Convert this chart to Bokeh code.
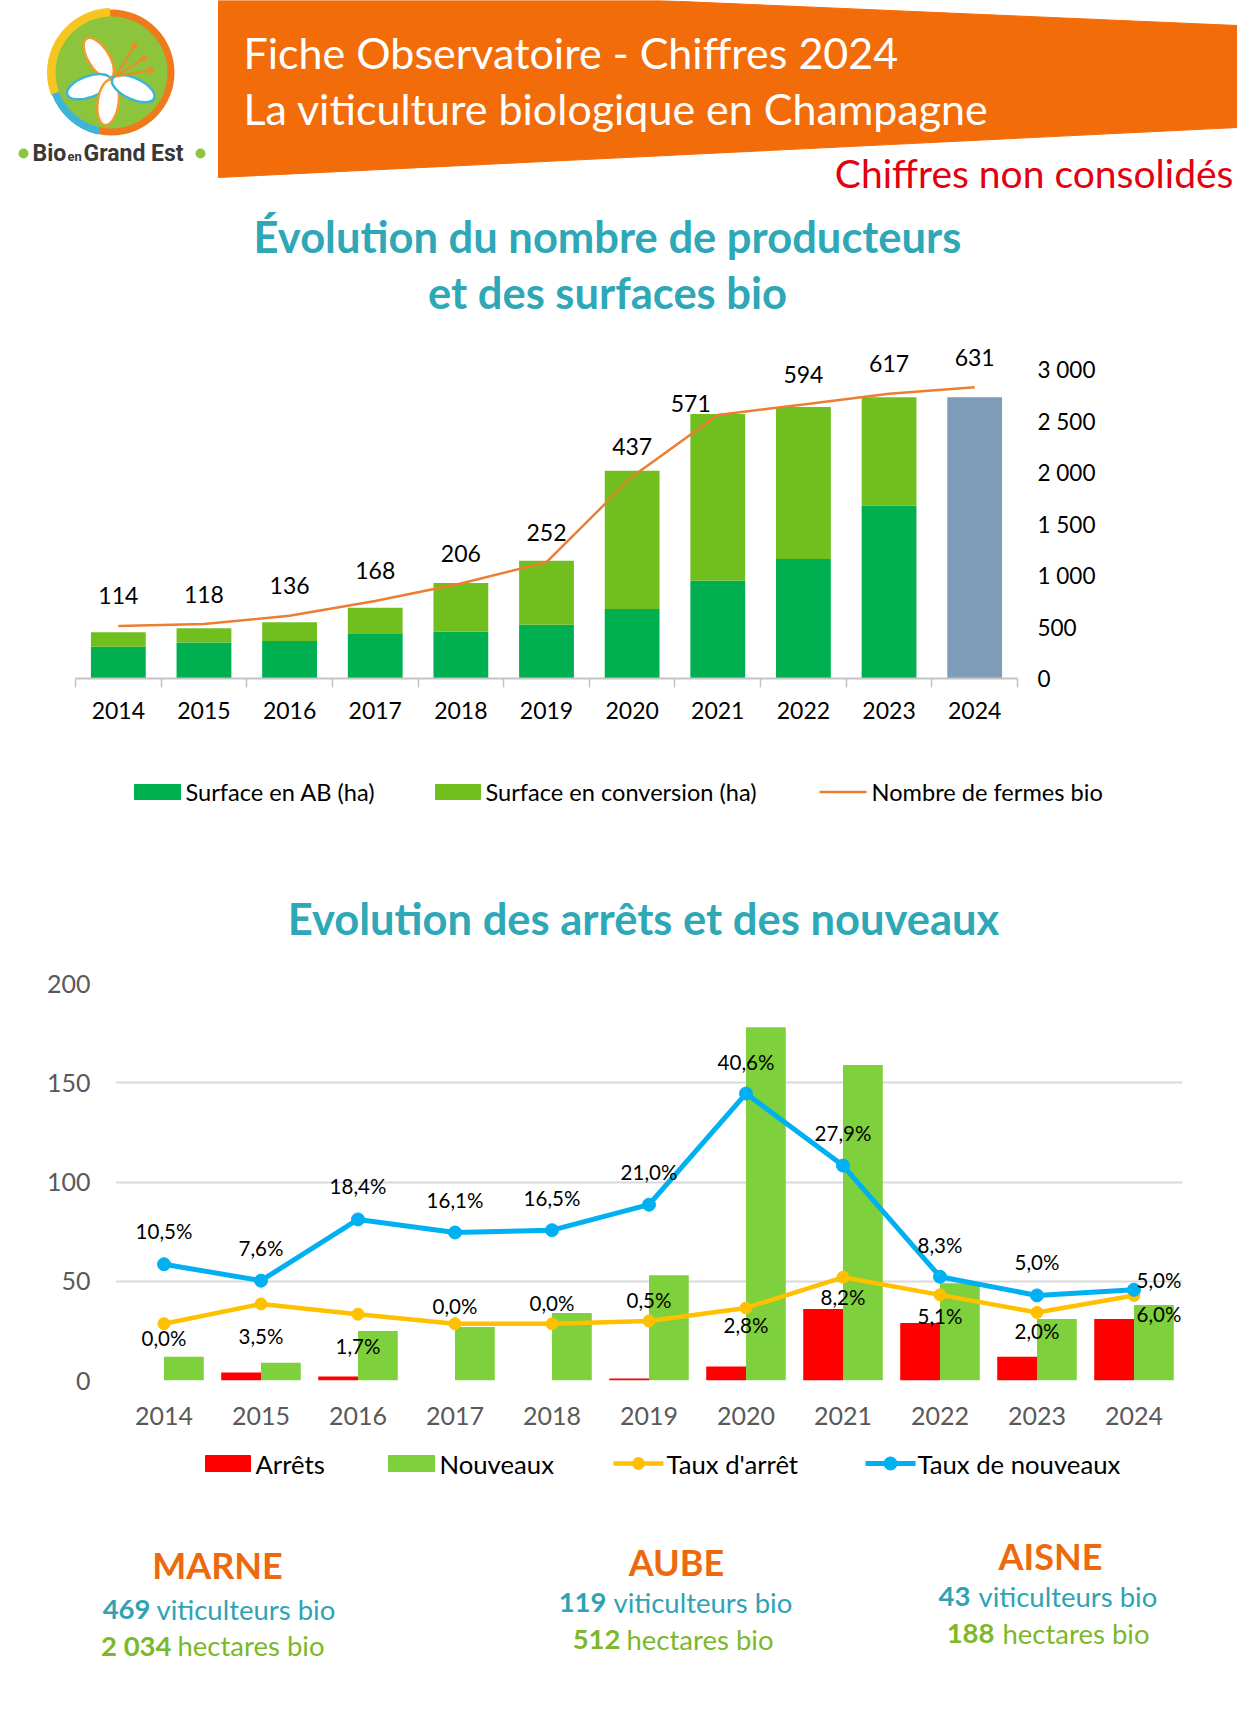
import math
from bokeh.plotting import figure
from bokeh.layouts import column
from bokeh.models import (Range1d, LinearAxis, FixedTicker, ColumnDataSource,
                          Grid, LabelSet)
from bokeh.transform import dodge
from bokeh.core.properties import value
from bokeh.embed import file_html
from bokeh.resources import INLINE

# ---------------- DATA ----------------
annees = [2014, 2015, 2016, 2017, 2018, 2019, 2020, 2021, 2022, 2023, 2024]
# surfaces (ha) 2014-2023, ventilées AB / conversion
surface_ab = [308, 350, 363, 431, 454, 522, 675, 950, 1161, 1680]
surface_conversion = [140, 137, 182, 257, 474, 620, 1342, 1619, 1476, 1051]
# 2024 : surface totale non ventilée (chiffres non consolidés)
surface_totale_2024 = [2731]
fermes_bio = [114, 118, 136, 168, 206, 252, 437, 571, 594, 617, 631]
surface_ticks = [0, 500, 1000, 1500, 2000, 2500, 3000]
surface_tick_labels = ["0", "500", "1 000", "1 500", "2 000", "2 500", "3 000"]

arrets = [0, 4, 2, 0, 0, 1, 7, 36, 29, 12, 31]
nouveaux = [12, 9, 25, 27, 34, 53, 178, 159, 49, 31, 38]
taux_arret = [0.0, 3.5, 1.7, 0.0, 0.0, 0.5, 2.8, 8.2, 5.1, 2.0, 5.0]
taux_nouveaux = [10.5, 7.6, 18.4, 16.1, 16.5, 21.0, 40.6, 27.9, 8.3, 5.0, 6.0]
effectif_ticks = [0, 50, 100, 150, 200]

departements = ["MARNE", "AUBE", "AISNE"]
viticulteurs = ["469", "119", "43"]
hectares = ["2 034", "512", "188"]

# ---------------- STYLE ----------------
W = 1237
FONT = "Lato"
TEAL = "#2ea7b7"
ORANGE = "#f36c0a"
C_AB = "#00b050"
C_CONV = "#71bf1f"
C_2024 = "#7f9cb9"
C_FERMES = "#ed7d31"
C_ARRET = "#ff0000"
C_NOUV = "#7ed03c"
C_TA = "#ffc000"
C_TN = "#00b0f0"
GREY = "#595959"


def pixel_fig(top, bottom):
    p = figure(width=W, height=bottom - top, x_range=Range1d(0, W),
               y_range=Range1d(bottom, top), output_backend="svg",
               toolbar_location=None, min_border=0,
               x_axis_location=None, y_axis_location=None)
    p.frame_align = False
    p.grid.visible = False
    p.outline_line_color = None
    p.background_fill_color = "white"
    return p


def txt(p, x, y, s, size, color="black", font=FONT, style="normal",
        align="left", baseline="middle"):
    p.text(x=[x], y=[y], text=[s], text_font=value(font),
           text_font_size=f"{size}px", text_color=color,
           text_font_style=style, text_align=align, text_baseline=baseline)


# ---------------- HEADER (+ title chart 1) ----------------
f1 = pixel_fig(0, 322)
f1.patch([218, 658, 1237, 1237, 218], [0, 0, 25, 127, 177], color=ORANGE)

# logo
cx, cy = 111, 72
f1.circle(x=[cx], y=[cy], radius=63, fill_color="#ee7a1c", line_color=None)
f1.annular_wedge(x=[cx], y=[cy], inner_radius=54, outer_radius=64,
                 start_angle=1.6, end_angle=3.5, color="#f7c520")
f1.annular_wedge(x=[cx], y=[cy], inner_radius=54, outer_radius=63,
                 start_angle=3.5, end_angle=4.5, color="#3db5d8")
f1.circle(x=[cx], y=[cy], radius=56, fill_color="#8cc43c", line_color=None)
petal_angles = [122, 200, 262, 335]
petal_lines = ["#f29a2e", "#3cb6d8", "#f29a2e", "#3cb6d8"]
for ang, lc in zip(petal_angles, petal_lines):
    a = math.radians(ang)
    f1.ellipse(x=[cx + 24 * math.cos(a)], y=[cy + 6 - 24 * math.sin(a)],
               width=46, height=21, angle=a, fill_color="white",
               line_color=lc, line_width=2.5)
for ang, ln in [(32, 38), (55, 40), (12, 40)]:
    a = math.radians(ang)
    ex, ey = cx + ln * math.cos(a), cy + 6 - ln * math.sin(a)
    f1.segment(x0=[cx + 4], y0=[cy + 4], x1=[ex], y1=[ey],
               line_color="#f08a24", line_width=2)
    f1.circle(x=[ex], y=[ey], radius=3, fill_color="#f08a24", line_color=None)

f1.circle(x=[23, 200], y=[153, 153], radius=5, fill_color="#8dc63f",
          line_color=None)
txt(f1, 32, 153, "Bio", 23, color="#383838", font="Roboto", style="bold")
txt(f1, 67, 156, "en", 13, color="#383838", font="Roboto", style="bold")
txt(f1, 83, 153, "Grand Est", 23, color="#383838", font="Roboto", style="bold")

txt(f1, 243, 52, "Fiche Observatoire - Chiffres 2024", 43, color="white")
txt(f1, 243, 108, "La viticulture biologique en Champagne", 43, color="white")
txt(f1, 1233, 172, "Chiffres non consolidés", 39, color="#e3000f", align="right")

txt(f1, 607, 235, "Évolution du nombre de producteurs", 43.5, color=TEAL,
    style="bold", align="center")
txt(f1, 607, 291, "et des surfaces bio", 43.5, color=TEAL, style="bold",
    align="center")

# ---------------- CHART 1 ----------------
c1_top, c1_bottom = 322, 750
frame_top, frame_bottom = 322, 678
px_per_unit = 309 / 3000
ymax1 = (frame_bottom - frame_top) / px_per_unit
f2 = figure(width=W, height=c1_bottom - c1_top,
            x_range=Range1d(2013.5, 2024.5), y_range=Range1d(0, ymax1),
            output_backend="svg", toolbar_location=None,
            min_border_left=75, min_border_right=W - 1017,
            min_border_top=frame_top - c1_top,
            min_border_bottom=c1_bottom - frame_bottom,
            x_axis_location=None, y_axis_location=None)
f2.frame_align = False
f2.grid.visible = False
f2.outline_line_color = None
f2.extra_y_ranges = {"fermes": Range1d(0, ymax1 / 4.48)}

hist = annees[:-1]
tot = [a + c for a, c in zip(surface_ab, surface_conversion)]
f2.vbar(x=hist, bottom=0, top=surface_ab, width=0.64, fill_color=C_AB,
        line_color=None)
f2.vbar(x=hist, bottom=surface_ab, top=tot, width=0.64, fill_color=C_CONV,
        line_color=None)
f2.vbar(x=annees[-1:], bottom=0, top=surface_totale_2024, width=0.64,
        fill_color=C_2024, line_color=None)
f2.line(annees, fermes_bio, y_range_name="fermes", color=C_FERMES,
        line_width=2.5)
dx1 = [0] * len(annees)
dy1 = [-30] * len(annees)
dx1[7], dy1[7] = -27, -12
src1 = ColumnDataSource(dict(x=annees, y=fermes_bio,
                             t=[str(v) for v in fermes_bio], dx=dx1, dy=dy1))
f2.text(x="x", y="y", text="t", source=src1, y_range_name="fermes",
        x_offset="dx", y_offset="dy", text_align="center",
        text_baseline="middle", text_font=value(FONT),
        text_font_size="23px", text_color="black")

xa1 = LinearAxis(ticker=FixedTicker(ticks=annees,
                                    minor_ticks=[a - 0.5 for a in annees] + [annees[-1] + 0.5]),
                 major_label_overrides={a: str(a) for a in annees})
xa1.axis_line_color = "#c3c3c3"
xa1.axis_line_width = 2
xa1.major_tick_out = 0
xa1.major_tick_in = 0
xa1.minor_tick_out = 9
xa1.minor_tick_in = 0
xa1.minor_tick_line_color = "#c3c3c3"
xa1.minor_tick_line_width = 1.5
xa1.major_label_standoff = 14
xa1.major_label_text_font = FONT
xa1.major_label_text_font_size = "23px"
xa1.major_label_text_color = "black"
f2.add_layout(xa1, "below")

ya1 = LinearAxis(ticker=FixedTicker(ticks=surface_ticks),
                 major_label_overrides=dict(zip(surface_ticks, surface_tick_labels)))
ya1.axis_line_color = None
ya1.major_tick_out = 0
ya1.major_tick_in = 0
ya1.minor_tick_out = 0
ya1.minor_tick_in = 0
ya1.major_label_standoff = 20
ya1.major_label_text_font = FONT
ya1.major_label_text_font_size = "22.5px"
ya1.major_label_text_color = "black"
f2.add_layout(ya1, "right")

# ---------------- LEGEND 1 + TITLE 2 ----------------
f3 = pixel_fig(750, 960)
f3.quad(left=[134], right=[180], top=[784], bottom=[799], color=C_AB)
txt(f3, 185, 791.5, "Surface en AB (ha)", 23.6)
f3.quad(left=[435], right=[480], top=[784], bottom=[799], color=C_CONV)
txt(f3, 485, 791.5, "Surface en conversion (ha)", 23.6)
f3.line([819, 866], [791.5, 791.5], color=C_FERMES, line_width=2.5)
txt(f3, 871, 791.5, "Nombre de fermes bio", 23.6)
txt(f3, 643, 917, "Evolution des arrêts et des nouveaux", 43.5, color=TEAL,
    style="bold", align="center")

# ---------------- CHART 2 ----------------
c2_top, c2_bottom = 960, 1440
fr2_top, fr2_bottom = 983, 1380
f4 = figure(width=W, height=c2_bottom - c2_top,
            x_range=Range1d(2013.5, 2024.5), y_range=Range1d(0, 200),
            output_backend="svg", toolbar_location=None,
            min_border_left=115, min_border_right=W - 1182,
            min_border_top=fr2_top - c2_top,
            min_border_bottom=c2_bottom - fr2_bottom,
            x_axis_location=None, y_axis_location=None)
f4.frame_align = False
f4.grid.visible = False
f4.outline_line_color = None
f4.extra_y_ranges = {"taux": Range1d(-10, 60)}

ya2 = LinearAxis(ticker=FixedTicker(ticks=effectif_ticks))
ya2.axis_line_color = None
ya2.major_tick_out = 0
ya2.major_tick_in = 0
ya2.minor_tick_out = 0
ya2.minor_tick_in = 0
ya2.major_label_standoff = 25
ya2.major_label_text_font = FONT
ya2.major_label_text_font_size = "25px"
ya2.major_label_text_color = GREY
f4.add_layout(ya2, "left")
f4.add_layout(Grid(dimension=1, ticker=ya2.ticker, grid_line_color="#d9d9d9",
                   grid_line_width=2))

xa2 = LinearAxis(ticker=FixedTicker(ticks=annees),
                 major_label_overrides={a: str(a) for a in annees})
xa2.axis_line_color = None
xa2.major_tick_out = 0
xa2.major_tick_in = 0
xa2.minor_tick_out = 0
xa2.minor_tick_in = 0
xa2.major_label_standoff = 26
xa2.major_label_text_font = FONT
xa2.major_label_text_font_size = "25px"
xa2.major_label_text_color = GREY
f4.add_layout(xa2, "below")

src2 = ColumnDataSource(dict(annee=annees, arrets=arrets, nouveaux=nouveaux,
                             ta=taux_arret, tn=taux_nouveaux))
f4.vbar(x=dodge("annee", -0.205, range=f4.x_range), top="arrets", width=0.41,
        fill_color=C_ARRET, line_color=None, source=src2)
f4.vbar(x=dodge("annee", 0.205, range=f4.x_range), top="nouveaux", width=0.41,
        fill_color=C_NOUV, line_color=None, source=src2)
f4.line("annee", "ta", source=src2, y_range_name="taux", color=C_TA,
        line_width=4.5)
f4.scatter("annee", "ta", source=src2, y_range_name="taux", marker="circle",
           size=12, color=C_TA)
f4.line("annee", "tn", source=src2, y_range_name="taux", color=C_TN,
        line_width=5)
f4.scatter("annee", "tn", source=src2, y_range_name="taux", marker="circle",
           size=13, color=C_TN)


def pct(v):
    return f"{v:.1f}".replace(".", ",") + "%"


# screen offsets of the data labels (px, positive = downwards)
dy_ta = [14, 32, 32, -18, -21, -21, 17, 20, 21, 19, -15]
dx_ta = [0] * 10 + [25]
dy_tn = [-33, -33, -33, -32, -32, -33, -32, -33, -32, -33, 24]
dx_tn = [0] * 10 + [25]
for vals, dxs, dys in [(taux_arret, dx_ta, dy_ta), (taux_nouveaux, dx_tn, dy_tn)]:
    s = ColumnDataSource(dict(x=annees, y=vals, t=[pct(v) for v in vals],
                              dx=dxs, dy=[-d for d in dys]))
    f4.add_layout(LabelSet(x="x", y="y", text="t", source=s,
                           y_range_name="taux", x_offset="dx", y_offset="dy",
                           text_align="center", text_baseline="middle",
                           text_font=value(FONT), text_font_size="20.5px",
                           text_color="black"))

# ---------------- LEGEND 2 + FOOTER ----------------
f5 = pixel_fig(1440, 1720)
f5.quad(left=[205], right=[250], top=[1455], bottom=[1471], color=C_ARRET)
txt(f5, 255, 1463, "Arrêts", 25.7)
f5.quad(left=[388], right=[434], top=[1455], bottom=[1471], color=C_NOUV)
txt(f5, 439, 1463, "Nouveaux", 25.7)
f5.line([613, 663], [1463, 1463], color=C_TA, line_width=4.5)
f5.scatter([638], [1463], marker="circle", size=12, color=C_TA)
txt(f5, 666, 1463, "Taux d'arrêt", 25.7)
f5.line([865, 915], [1463, 1463], color=C_TN, line_width=5)
f5.scatter([890], [1463], marker="circle", size=13, color=C_TN)
txt(f5, 917, 1463, "Taux de nouveaux", 25.7)

FT_TEAL = "#2fa3b4"
FT_GREEN = "#7cb82a"
FT_ORANGE = "#ec6a0d"
name_pos = [(217, 1564), (676, 1561), (1050, 1555)]
line1 = [(150, 156, 1609), (606, 613, 1602), (970, 978, 1596)]
line2 = [(171, 177, 1645), (620, 626, 1639), (994, 1002, 1633)]
for i, dep in enumerate(departements):
    nx, ny = name_pos[i]
    txt(f5, nx, ny, dep, 36, color=FT_ORANGE, style="bold", align="center")
    r, l, y = line1[i]
    txt(f5, r, y, viticulteurs[i], 27.5, color=FT_TEAL, style="bold", align="right")
    txt(f5, l, y, "viticulteurs bio", 27.5, color=FT_TEAL)
    r, l, y = line2[i]
    txt(f5, r, y, hectares[i], 27.5, color=FT_GREEN, style="bold", align="right")
    txt(f5, l, y, "hectares bio", 27.5, color=FT_GREEN)

page = column(f1, f2, f3, f4, f5)
open("out.html", "w").write(file_html(page, INLINE, "Viticulture biologique en Champagne"))
